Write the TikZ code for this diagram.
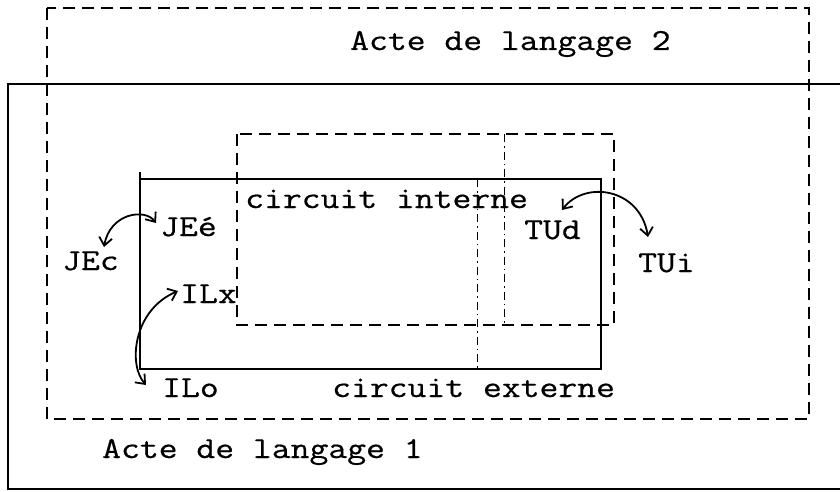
\documentclass[tikz,border=0pt]{standalone}
\usepackage{fontspec}
\setmonofont{Latin Modern Mono}[FakeStretch=1.2,FakeBold=0.6]
\usetikzlibrary{arrows.meta,calc}
\tikzset{
  solidline/.style={line width=2.2pt},
  dashline/.style={line width=1.6pt, dash pattern=on 12pt off 7pt},
  dotdash/.style={line width=1pt, dash pattern=on 8pt off 4pt on 1.5pt off 4pt},
  lbl/.style={inner sep=0pt, anchor=base west, font=\ttfamily\fontsize{30.5}{36}\selectfont},
  swaparrow/.style={line width=1.8pt, {Straight Barb[length=8pt,width=13pt]}-{Straight Barb[length=8pt,width=13pt]}}
}
\begin{document}
\begin{tikzpicture}[x=1pt,y=-1pt]
  \useasboundingbox (0,0) rectangle (840,492);
  \fill[white] (0,0) rectangle (840,492);
  % speech act 1: solid frame running off to the right
  \begin{scope}
    \clip (0,0) rectangle (840,492);
    \draw[solidline] (850,84) -- (8,84) -- (8,489) -- (850,489);
  \end{scope}
  % speech act 2: dashed frame
  \draw[dashline] (47,8) rectangle (809,419);
  % external circuit
  \draw[solidline] (140,172) -- (140,369) -- (601,369) -- (601,179) -- (140,179);
  % internal circuit
  \draw[dashline] (237,134) rectangle (614,325);
  % dash-dot dividers
  \draw[dotdash] (504,134) -- (504,325);
  \draw[dotdash] (477,179) -- (477,369);

  % labels
  \node[lbl] (act2) at (350,50) {Acte de langage 2};
  \node[lbl] (cint) at (245,208) {circuit interne};
  \node[lbl] (JEe) at (160,236) {JEé};
  \node[lbl] (JEc) at (62,270) {JEc};
  \node[lbl] (ILx) at (180,303) {ILx};
  \node[lbl] (ILo) at (162,397) {ILo};
  \node[lbl] (cext) at (332,397) {circuit externe};
  \node[lbl] (act1) at (102,458) {Acte de langage 1};
  \node[lbl] (TUd) at (524,239) {TUd};
  \node[lbl] (TUi) at (638,272) {TUi};

  % curved double arrows
  \draw[swaparrow] ($(JEc.base west)+(42,-23)$) .. controls (110,213) and (145,208) .. ($(JEe.base west)+(-4,-13)$);
  \draw[swaparrow] ($(ILo.base west)+(-16,-12)$) .. controls (128,365) and (133,310) .. ($(ILx.base west)+(-2,-12)$);
  \draw[swaparrow] ($(TUd.base west)+(38,-29)$) .. controls (585,180) and (640,188) .. ($(TUi.base west)+(10,-35)$);
\end{tikzpicture}
\end{document}
